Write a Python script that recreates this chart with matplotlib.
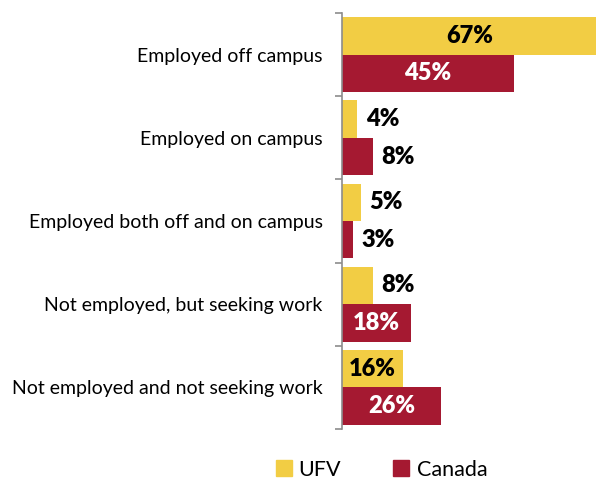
import numpy as np
import matplotlib
matplotlib.use("Agg")
import matplotlib.pyplot as plt
from matplotlib.lines import Line2D

plt.rcParams['font.family'] = ['Lato', 'DejaVu Sans']

categories = [
    "Employed off campus",
    "Employed on campus",
    "Employed both off and on campus",
    "Not employed, but seeking work",
    "Not employed and not seeking work",
]
ufv = [67, 4, 5, 8, 16]
canada = [45, 8, 3, 18, 26]
series_names = ["UFV", "Canada"]

yellow = "#F2CD44"
crimson = "#A51931"

fig = plt.figure(figsize=(5.96, 4.83), dpi=100)
ax = fig.add_axes([342 / 596, 1 - 429 / 483, 1 - 342 / 596, (429 - 13) / 483])

y = np.arange(len(categories))
h = 0.45
ax.barh(y - h / 2, ufv, height=h, color=yellow)
ax.barh(y + h / 2, canada, height=h, color=crimson)

ax.set_xlim(0, 66.6)
ax.set_ylim(len(categories) - 0.5, -0.5)

# value labels: inside for long bars, just past the end for short ones
for vals, offs, txtcol in [(ufv, -h / 2, "black"), (canada, h / 2, "white")]:
    for i, v in enumerate(vals):
        if v >= 15:
            ax.text(v / 2, i + offs, f"{v}%", ha="center", va="center",
                    fontsize=17, fontweight="heavy", color=txtcol)
        else:
            ax.annotate(f"{v}%", (v, i + offs), xytext=(6, 0),
                        textcoords="offset points", ha="left", va="center",
                        fontsize=17, fontweight="heavy", color="black")

for s in ["top", "right", "bottom"]:
    ax.spines[s].set_visible(False)
ax.spines["left"].set_color("#8C8C8C")
ax.spines["left"].set_linewidth(1.2)
ax.set_xticks([])

ax.set_yticks(y)
ax.set_yticklabels(categories, fontsize=14)
ax.tick_params(axis="y", which="major", length=0, pad=14)
ax.set_yticks(np.arange(-0.5, len(categories)), minor=True)
ax.tick_params(axis="y", which="minor", length=5, width=1.2, color="#8C8C8C")

handles = [
    Line2D([], [], marker="s", linestyle="none", markersize=11,
           markerfacecolor=yellow, markeredgecolor=yellow),
    Line2D([], [], marker="s", linestyle="none", markersize=11,
           markerfacecolor=crimson, markeredgecolor=crimson),
]
fig.legend(handles, series_names, loc="center", bbox_to_anchor=(380 / 596, 1 - 470 / 483),
           ncol=2, frameon=False, fontsize=15.5, handletextpad=0.2, columnspacing=2.3,
           handlelength=1.0)

fig.savefig("out.png", dpi=100)
